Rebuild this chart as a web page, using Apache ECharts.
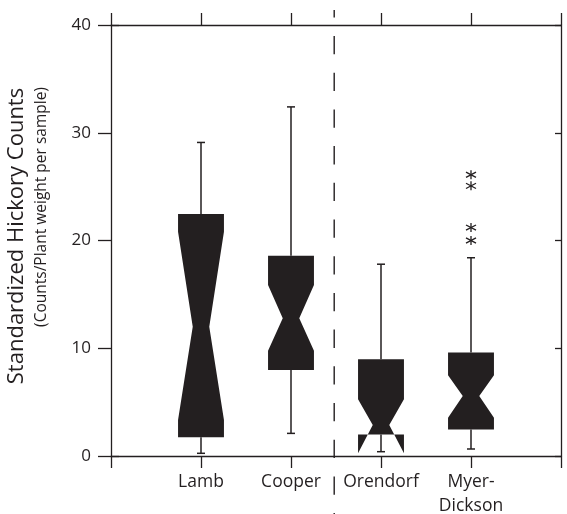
<!DOCTYPE html>
<html>
<head>
<meta charset="utf-8">
<script src="https://cdn.jsdelivr.net/npm/echarts@6/dist/echarts.min.js"></script>
<style>
  html, body { margin: 0; padding: 0; background: #fff; }
  #chart { width: 567px; height: 514px; }
</style>
</head>
<body>
<div id="chart"></div>
<script>
// Sites, in plotting order (x positions 1..4)
const sites = ['Lamb', 'Cooper', 'Orendorf', 'Myer-\nDickson'];

// Notched box statistics per site
const whiskerLow  = [0.25, 2.1, 0.4, 0.65];
const quart1      = [1.74, 7.98, 2.0, 2.47];
const notchLow    = [3.34, 9.77, 0.25, 3.55];
const medians     = [12.0, 12.78, 2.88, 5.57];
const notchHigh   = [20.82, 15.87, 5.26, 7.5];
const quart3      = [22.46, 18.59, 8.97, 9.6];
const whiskerHigh = [29.1, 32.4, 17.8, 18.4];

// Outside values (site index, count)
const outlierSite  = [3, 3, 3, 3];
const outlierValue = [20.0, 21.2, 25.07, 26.1];

// Y axis ticks
const yTicks = [0, 10, 20, 30, 40];

// Dashed divider between the two groups of sites
const dividerAt = 2.48;

const ink = '#231f20';
const font = 'Open Sans';

const boxData = sites.map((s, i) => [i + 1, whiskerLow[i], quart1[i], notchLow[i], medians[i], notchHigh[i], quart3[i], whiskerHigh[i]]);
const outlierData = outlierSite.map((s, i) => [s + 1, outlierValue[i]]);

const chart = echarts.init(document.getElementById('chart'), null, { renderer: 'canvas' });

function renderBox(params, api) {
  const x = api.value(0);
  const p = k => api.coord([x, api.value(k)]);
  const lo = p(1), q1 = p(2), nl = p(3), md = p(4), nh = p(5), q3 = p(6), hi = p(7);
  const cx = lo[0];
  const hw = api.size([0.255, 0])[0];
  const ww = hw * 0.36;
  const L = cx - hw, R = cx + hw;
  const capW = 4;
  const lineStyle = { stroke: ink, lineWidth: 1.5 };
  return {
    type: 'group',
    children: [
      { type: 'line', shape: { x1: cx, y1: q3[1], x2: cx, y2: hi[1] }, style: lineStyle },
      { type: 'line', shape: { x1: cx - capW, y1: hi[1], x2: cx + capW, y2: hi[1] }, style: lineStyle },
      { type: 'line', shape: { x1: cx, y1: q1[1], x2: cx, y2: lo[1] }, style: lineStyle },
      { type: 'line', shape: { x1: cx - capW, y1: lo[1], x2: cx + capW, y2: lo[1] }, style: lineStyle },
      {
        type: 'polygon',
        shape: {
          points: [
            [L, q3[1]], [R, q3[1]], [R, nh[1]], [cx + ww, md[1]], [R, nl[1]],
            [R, q1[1]], [L, q1[1]], [L, nl[1]], [cx - ww, md[1]], [L, nh[1]]
          ]
        },
        style: { fill: ink }
      }
    ]
  };
}

function renderStar(params, api) {
  const c = api.coord([api.value(0), api.value(1)]);
  const st = { stroke: ink, lineWidth: 1.3 };
  return {
    type: 'group',
    children: [
      { type: 'line', shape: { x1: c[0], y1: c[1] - 4.5, x2: c[0], y2: c[1] + 4.5 }, style: st },
      { type: 'line', shape: { x1: c[0] - 5, y1: c[1] - 2.6, x2: c[0] + 5, y2: c[1] + 2.6 }, style: st },
      { type: 'line', shape: { x1: c[0] - 5, y1: c[1] + 2.6, x2: c[0] + 5, y2: c[1] - 2.6 }, style: st }
    ]
  };
}

const axisLine = { show: true, onZero: false, lineStyle: { color: ink, width: 1.3 } };

chart.setOption({
  animation: false,
  backgroundColor: '#fff',
  grid: { left: 111, right: 6, top: 25, bottom: 58, containLabel: false, outerBoundsMode: 'none' },
  xAxis: [
    {
      type: 'value', min: 0, max: 5, interval: 1, position: 'bottom',
      axisLine: axisLine,
      axisTick: { show: true, inside: false, length: 12, lineStyle: { color: ink, width: 1.3 } },
      splitLine: { show: false },
      axisLabel: {
        margin: 14.5,
        color: ink, fontFamily: font, fontSize: 17.5, lineHeight: 23.5,
        formatter: v => (v >= 1 && v <= sites.length) ? sites[v - 1] : ''
      }
    },
    {
      type: 'value', min: 0, max: 5, interval: 1, position: 'top',
      axisLine: axisLine,
      axisTick: { show: true, inside: false, length: 12, lineStyle: { color: ink, width: 1.3 } },
      splitLine: { show: false },
      axisLabel: { show: false }
    }
  ],
  yAxis: [
    {
      type: 'value', min: 0, max: 40, interval: 10, position: 'left',
      axisLine: axisLine,
      axisTick: { show: true, inside: false, length: 13, lineStyle: { color: ink, width: 1.3 } },
      splitLine: { show: false },
      axisLabel: { margin: 20, color: ink, fontFamily: font, fontSize: 17 }
    },
    {
      type: 'value', min: 0, max: 40, interval: 10, position: 'right',
      axisLine: axisLine,
      axisTick: { show: true, inside: true, length: 6, lineStyle: { color: ink, width: 1.3 } },
      splitLine: { show: false },
      axisLabel: { show: false }
    },
    {
      type: 'value', min: 0, max: 40, interval: 10, position: 'right',
      axisLine: { show: false },
      axisTick: { show: true, inside: false, length: 8, customValues: [yTicks[0], yTicks[yTicks.length - 1]], lineStyle: { color: ink, width: 1.3 } },
      splitLine: { show: false },
      axisLabel: { show: false }
    }
  ],
  series: [
    {
      type: 'custom', name: 'boxes', xAxisIndex: 0, yAxisIndex: 0,
      renderItem: renderBox,
      encode: { x: 0, y: [1, 2, 3, 4, 5, 6, 7] },
      data: boxData, clip: false, z: 3
    },
    {
      type: 'custom', name: 'outside values', xAxisIndex: 0, yAxisIndex: 0,
      renderItem: renderStar,
      encode: { x: 0, y: 1 },
      data: outlierData, z: 3
    }
  ]
});

// Divider and rotated axis title, placed from the axis scale
const divX = chart.convertToPixel({ xAxisIndex: 0 }, dividerAt);
chart.setOption({
  graphic: [
    {
      type: 'line', silent: true, z: 5,
      shape: { x1: divX, y1: 10, x2: divX, y2: 514 },
      style: { stroke: ink, lineWidth: 1.4, lineDash: [18.3, 18.4], lineDashOffset: 10.7 }
    },
    {
      type: 'text', x: 17, y: 236, rotation: Math.PI / 2,
      style: {
        text: 'Standardized Hickory Counts', fill: ink,
        font: '22px "Open Sans"', align: 'center', verticalAlign: 'middle'
      }
    },
    {
      type: 'text', x: 42, y: 207, rotation: Math.PI / 2,
      style: {
        text: '(Counts/Plant weight per sample)', fill: ink,
        font: '15.5px "Open Sans"', align: 'center', verticalAlign: 'middle'
      }
    }
  ]
});
</script>
</body>
</html>
